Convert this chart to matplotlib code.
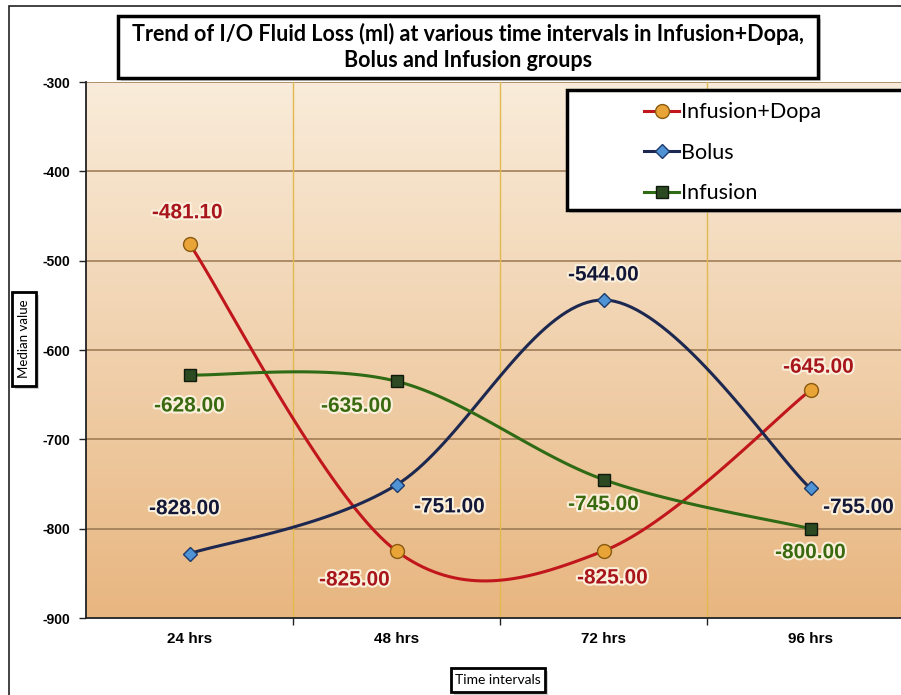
import matplotlib.pyplot as plt
import matplotlib.patheffects as pe
from matplotlib.patches import Rectangle
from matplotlib.lines import Line2D
import numpy as np

# --- data ---
intervals = ['24 hrs', '48 hrs', '72 hrs', '96 hrs']
infusion_dopa = [-481.10, -825.00, -825.00, -645.00]
bolus = [-828.00, -751.00, -544.00, -755.00]
infusion = [-628.00, -635.00, -745.00, -800.00]

series = ['Infusion+Dopa', 'Bolus', 'Infusion']
line_colors = ['#c0161c', '#1c2850', '#2f6a14']
marker_styles = ['o', 'D', 's']
marker_faces = ['#e9a437', '#4f93d4', '#2c4a22']
marker_edges = ['#8a5a10', '#1c3a6a', '#101a0c']
marker_sizes = [10, 7.5, 8]
label_colors = ['#a8161c', '#141838', '#3a6a10']

# label offsets in pixels (dx, dy) for each point
label_offsets = [
    [(-2, 31), (-42, -29), (9, -27), (8, 23)],
    [(-5, 45), (53, -22), (0, 25), (48, -19)],
    [(0, -31), (-40, -25), (0, -25), (0, -24)],
]


def smooth(x, y, n=40):
    # Excel-like smoothed line (Catmull-Rom Bezier)
    x = np.asarray(x, float)
    y = np.asarray(y, float)
    px = np.concatenate([[x[0]], x, [x[-1]]])
    py = np.concatenate([[y[0]], y, [y[-1]]])
    t = np.linspace(0, 1, n)
    xs, ys = [], []
    for i in range(1, len(px) - 2):
        p0 = np.array([px[i], py[i]])
        p3 = np.array([px[i + 1], py[i + 1]])
        c1 = p0 + (np.array([px[i + 1], py[i + 1]]) - np.array([px[i - 1], py[i - 1]])) / 6
        c2 = p3 - (np.array([px[i + 2], py[i + 2]]) - np.array([px[i], py[i]])) / 6
        b = ((1 - t) ** 3)[:, None] * p0 + (3 * (1 - t) ** 2 * t)[:, None] * c1 \
            + (3 * (1 - t) * t ** 2)[:, None] * c2 + (t ** 3)[:, None] * p3
        xs.append(b[:, 0])
        ys.append(b[:, 1])
    return np.concatenate(xs), np.concatenate(ys)


W, H = 901, 695
fig = plt.figure(figsize=(W / 100, H / 100), dpi=100)

# outer chart border
fig.patches.append(Rectangle((9 / W, -0.1), 1.2, 1.1 - 6 / H, transform=fig.transFigure,
                             fill=False, edgecolor='#222222', lw=1.2, zorder=0))

ax = fig.add_axes([86 / W, 1 - 618 / H, (914 - 86) / W, (618 - 82) / H])
ax.set_xlim(-0.5, 3.5)
ax.set_ylim(-900, -300)

# gradient background
grad = np.linspace(0, 1, 256)[:, None]
cmap = plt.matplotlib.colors.LinearSegmentedColormap.from_list('bg', ['#f9ecda', '#e8b680'])
ax.imshow(grad, extent=[0, 1, 0, 1], transform=ax.transAxes, cmap=cmap,
          aspect='auto', origin='upper', zorder=0)

for v in range(-800, -299, 100):
    ax.axhline(v, color='#9a7650', lw=1.1, zorder=1)
for xb in [0.5, 1.5, 2.5]:
    ax.axvline(xb, color='#e2b94e', lw=1, zorder=1)

xs = np.arange(len(intervals))
all_vals = [infusion_dopa, bolus, infusion]
for k, vals in enumerate(all_vals):
    sx, sy = smooth(xs, vals)
    ax.plot(sx, sy, color=line_colors[k], lw=2.2, zorder=3)
    ax.plot(xs, vals, linestyle='none', marker=marker_styles[k], ms=marker_sizes[k],
            mfc=marker_faces[k], mec=marker_edges[k], mew=1, zorder=4)
    for i, v in enumerate(vals):
        dx, dy = label_offsets[k][i]
        ax.annotate(f'{v:.2f}', (xs[i], v), xytext=(dx * 0.72, dy * 0.72),
                    textcoords='offset points', ha='center', va='center',
                    fontsize=15, fontweight='bold', family='Liberation Sans',
                    color=label_colors[k], zorder=5,
                    path_effects=[pe.withStroke(linewidth=3, foreground='#fbf0dc')])

# axes styling
for s in ['top', 'right']:
    ax.spines[s].set_visible(False)
ax.spines['left'].set_color('#222222')
ax.spines['bottom'].set_color('#222222')
ax.spines['left'].set_linewidth(1.3)
ax.spines['bottom'].set_linewidth(1.3)

ax.set_yticks(range(-900, -299, 100))
ax.set_yticklabels([str(v) for v in range(-900, -299, 100)], fontsize=10,
                   fontweight='bold', family='Liberation Sans')
ax.tick_params(axis='y', length=5, width=1, color='#222222', pad=6)

ax.set_xticks(xs)
ax.set_xticklabels(intervals, fontsize=11, fontweight='bold', family='Liberation Sans')
ax.set_xticks([0.5, 1.5, 2.5, 3.5], minor=True)
ax.tick_params(axis='x', which='major', length=0, pad=10)
ax.tick_params(axis='x', which='minor', length=5, width=1, color='#222222')


def boxed_rect(x0, y0, x1, y1, lw=2.5):
    fig.patches.append(Rectangle((x0 / W + 3 / W, 1 - y1 / H - 3 / H), (x1 - x0) / W, (y1 - y0) / H,
                                 transform=fig.transFigure, facecolor='#b0b0b0',
                                 edgecolor='none', zorder=8, alpha=0.6))
    fig.patches.append(Rectangle((x0 / W, 1 - y1 / H), (x1 - x0) / W, (y1 - y0) / H,
                                 transform=fig.transFigure, facecolor='white',
                                 edgecolor='black', lw=lw, zorder=9))


# title box
boxed_rect(118, 16, 818, 78)
fig.text(468 / W, 1 - 47 / H,
         'Trend of I/O Fluid Loss (ml) at various time intervals in Infusion+Dopa,\nBolus and Infusion groups',
         ha='center', va='center', fontsize=15.5, fontweight='bold', family='Lato',
         linespacing=1.3, zorder=10)

# legend box
boxed_rect(567, 90, 915, 210)
handles = [Line2D([], [], color=line_colors[k], lw=2.2, marker=marker_styles[k],
                  ms=marker_sizes[k], mfc=marker_faces[k], mec=marker_edges[k])
           for k in range(3)]
leg = fig.legend(handles, series, loc='upper left', bbox_to_anchor=(625 / W, 1 - 83 / H),
                 frameon=False, handlelength=1.6, handletextpad=0.1,
                 labelspacing=0.95, prop={'family': 'Lato', 'size': 15.5})
leg.set_zorder(11)

# axis title boxes
boxed_rect(12, 292, 36, 386, lw=2)
fig.text(24 / W, 1 - 339 / H, 'Median value', rotation=90, ha='center', va='center',
         fontsize=9.5, family='Lato', zorder=10)
boxed_rect(451, 668, 545, 692, lw=2)
fig.text(498 / W, 1 - 680 / H, 'Time intervals', ha='center', va='center',
         fontsize=10, family='Lato', zorder=10)

fig.savefig('out.png', dpi=100)
